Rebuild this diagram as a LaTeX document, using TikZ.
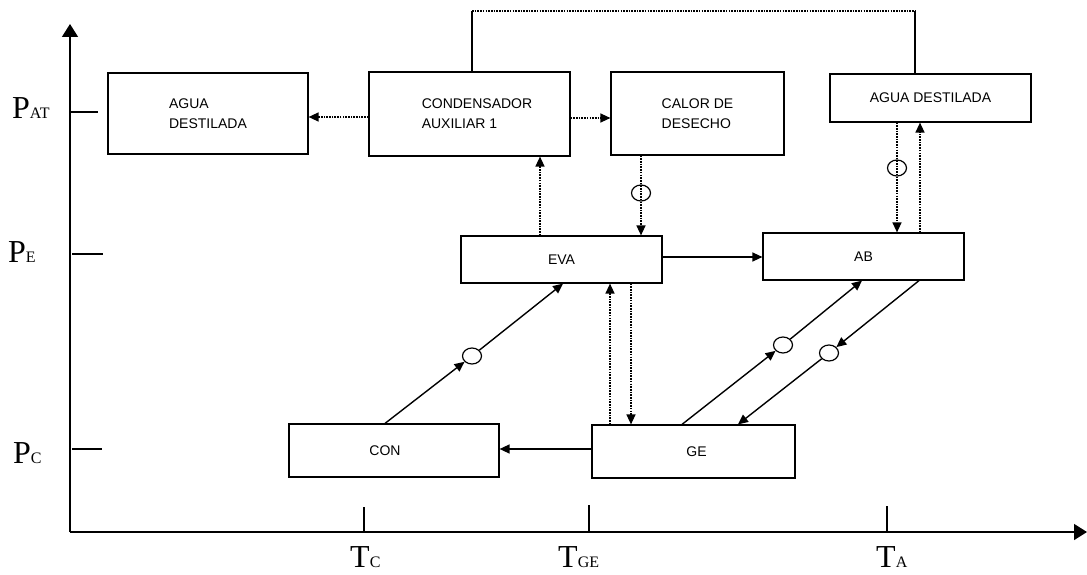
\documentclass[tikz,border=0pt]{standalone}
\usepackage{fontspec}
\setmainfont{Liberation Serif}
\newfontfamily\arialfont{Liberation Sans}
\usetikzlibrary{arrows.meta,shapes.geometric,calc}
\begin{document}
\begin{tikzpicture}[x=1pt,y=-1pt,
  box/.style={draw,line width=1.2pt,inner sep=0pt,font=\arialfont\fontsize{14}{20}\selectfont,align=center},
  conn/.style={line width=1.4pt},
  dotc/.style={line width=1.4pt,dash pattern=on 1.6pt off 1.1pt},
  tip/.style={-{Triangle[length=10pt,width=9pt]}},
  axis/.style={line width=1.5pt},
  axtip/.style={-{Triangle[length=13pt,width=16pt]}},
  ring/.style={draw,ellipse,line width=1.2pt,minimum width=19pt,minimum height=16pt,inner sep=0pt},
  biglab/.style={anchor=base west,inner sep=0pt}
]
\useasboundingbox (0,0) rectangle (1087,575);

% axes
\coordinate (O) at (70,532);
\coordinate (ytop) at (70,24);
\coordinate (xend) at (1087,532);
\draw[axis,axtip] (O) -- (ytop);
\draw[axis,axtip] (O) -- (xend);

% ticks
\coordinate (tpa1) at (70,112);  \coordinate (tpa2) at (98,112);
\coordinate (tpe1) at (72,254);  \coordinate (tpe2) at (103,254);
\coordinate (tpc1) at (72,449);  \coordinate (tpc2) at (102,449);
\coordinate (ttc1) at (364,507); \coordinate (ttc2) at (364,532);
\coordinate (ttg1) at (589,505); \coordinate (ttg2) at (589,532);
\coordinate (tta1) at (887,506); \coordinate (tta2) at (887,532);
\draw[axis] (tpa1) -- (tpa2);
\draw[axis] (tpe1) -- (tpe2);
\draw[axis] (tpc1) -- (tpc2);
\draw[axis] (ttc1) -- (ttc2);
\draw[axis] (ttg1) -- (ttg2);
\draw[axis] (tta1) -- (tta2);

% axis labels
\node[biglab] (pat) at (12,119) {\fontsize{32}{32}\selectfont P\fontsize{16}{16}\selectfont AT};
\node[biglab] (pe) at (8,262) {\fontsize{32}{32}\selectfont P\fontsize{16}{16}\selectfont E};
\node[biglab] (pc) at (13,463) {\fontsize{32}{32}\selectfont P\fontsize{16}{16}\selectfont C};
\node[biglab] (tc) at (350,567) {\fontsize{32}{32}\selectfont T\fontsize{16}{16}\selectfont C};
\node[biglab] (tge) at (558,567) {\fontsize{32}{32}\selectfont T\fontsize{16}{16}\selectfont GE};
\node[biglab] (ta) at (876,567) {\fontsize{32}{32}\selectfont T\fontsize{16}{16}\selectfont A};

% boxes
\node[box,minimum width=200pt,minimum height=81pt,align=left] (agua1) at (208,113.5) {AGUA\\DESTILADA};
\node[box,minimum width=201pt,minimum height=84pt,align=left] (cond) at (469.5,114) {\kern15pt CONDENSADOR\\\kern15pt AUXILIAR 1};
\node[box,minimum width=173pt,minimum height=83pt,align=left] (calor) at (697.5,113.5) {CALOR DE\\DESECHO};
\node[box,minimum width=201pt,minimum height=48pt] (agua2) at (930.5,98) {AGUA DESTILADA};
\node[box,minimum width=201pt,minimum height=47pt] (eva) at (561.5,259.5) {EVA};
\node[box,minimum width=201pt,minimum height=47pt] (ab) at (863.5,256.5) {AB};
\node[box,minimum width=210pt,minimum height=53pt] (con) at (394,450.5) {CON\kern18pt};
\node[box,minimum width=203pt,minimum height=53pt] (ge) at (693.5,451.5) {GE\kern-6pt};

% top loop
\coordinate (t1) at (472,11);
\coordinate (t2) at (915,11);
\draw[conn] (t1 |- cond.north) -- (t1);
\draw[dotc] (t1) -- (t2);
\draw[conn] (t2) -- (t2 |- agua2.north);

% dotted horizontal connectors
\draw[dotc,tip] ([yshift=-3pt]cond.west) -- ([yshift=-3pt]cond.west -| agua1.east);
\draw[dotc,tip] ([yshift=-4pt]cond.east) -- ([yshift=-4pt]cond.east -| calor.west);

% EVA -> condensador
\draw[dotc,tip] ([xshift=-21.5pt]eva.north) -- ([xshift=-21.5pt]eva.north |- cond.south);
% calor -> EVA with ring
\draw[dotc,tip] ([xshift=-56.5pt]calor.south) -- ([xshift=-56.5pt]calor.south |- eva.north);
\node[ring] (c4) at (641,193) {};

% EVA -> AB
\draw[conn,tip] ([yshift=2.5pt]eva.east) -- ([yshift=2.5pt]eva.east -| ab.west);

% agua2 <-> AB
\draw[dotc,tip] ([xshift=-33.5pt]agua2.south) -- ([xshift=-33.5pt]agua2.south |- ab.north);
\node[ring] (c5) at (897,168) {};
\draw[dotc,tip] ([xshift=56.5pt]ab.north) -- ([xshift=56.5pt]ab.north |- agua2.south);

% CON -> EVA
\node[ring,fill=white] (c1) at (472,356) {};
\draw[conn,tip] ([xshift=-9pt]con.north) -- (c1);
\draw[conn,tip] (c1) -- ([xshift=1.5pt]eva.south);

% GE <-> EVA dotted
\draw[dotc,tip] ([xshift=-83.5pt]ge.north) -- ([xshift=-83.5pt]ge.north |- eva.south);
\draw[dotc,tip] ([xshift=69.5pt]eva.south) -- ([xshift=69.5pt]eva.south |- ge.north);

% GE -> CON
\draw[conn,tip] ([yshift=2.5pt]ge.west) -- ([yshift=2.5pt]ge.west -| con.east);

% GE -> AB
\node[ring,fill=white] (c2) at (783,345) {};
\draw[conn,tip] ([xshift=-11.5pt]ge.north) -- (c2);
\draw[conn,tip] (c2) -- ([xshift=-1.5pt]ab.south);

% AB -> GE
\node[ring,fill=white] (c3) at (829,353) {};
\draw[conn,tip] ([xshift=55.5pt]ab.south) -- (c3);
\draw[conn,tip] (c3) -- ([xshift=44.5pt]ge.north);
\end{tikzpicture}
\end{document}
